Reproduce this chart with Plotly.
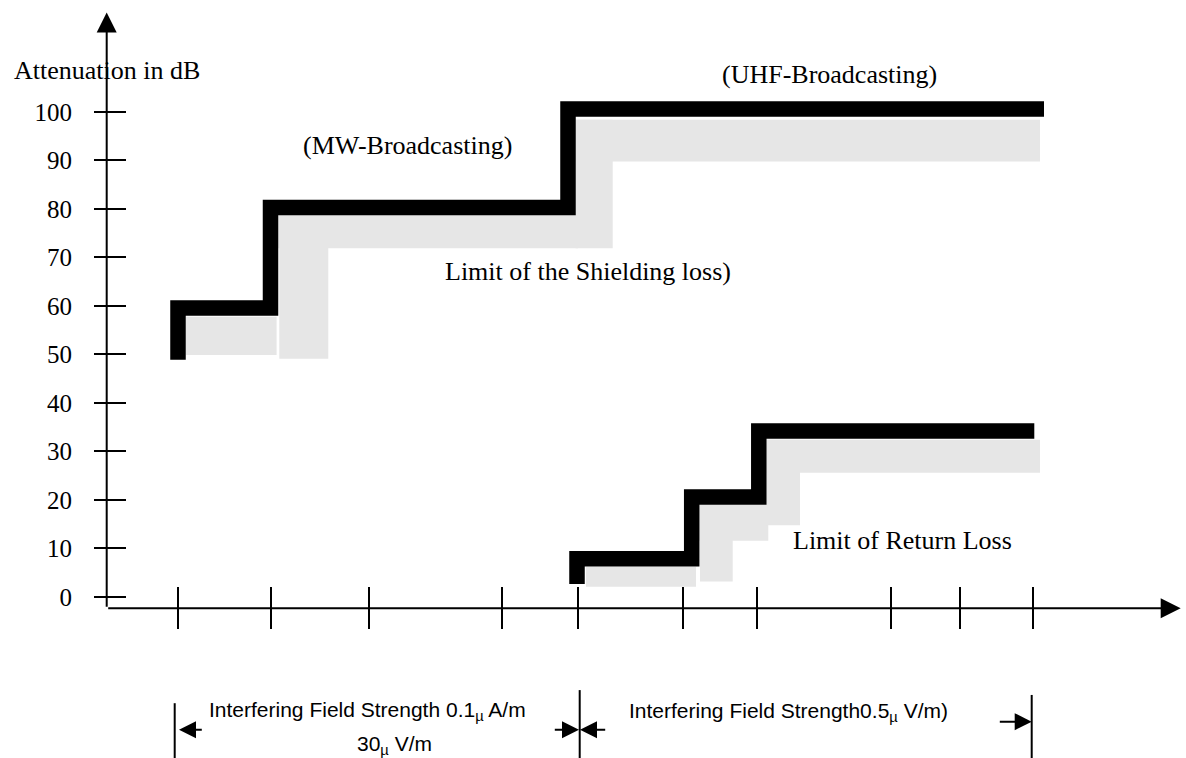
import plotly.graph_objects as go

# attenuation axis (dB)
y_ticks = [0, 10, 20, 30, 40, 50, 60, 70, 80, 90, 100]
# field strength axis, positions along the drawn axis (arbitrary units)
x_ticks = [7.1, 16.4, 26.2, 39.5, 47.1, 57.6, 65.0, 78.4, 85.3, 92.6]

# limit of the shielding loss - black step line
shield_steps_x = [7.13, 16.38, 46.13, 93.73]
shield_levels = [59.6, 80.3, 100.6]
shield_start = 48.9

# limit of return loss - black step line
return_steps_x = [47.03, 58.5, 65.21, 92.76]
return_levels = [7.9, 20.6, 34.2]
return_start = 2.7

# grey bands under the limits: left, right, lower dB, upper dB
shield_band_left = [7.93, 17.26, 17.16, 46.9, 46.9]
shield_band_right = [16.99, 22.16, 47.13, 50.6, 93.33]
shield_band_lo = [49.9, 49.1, 71.9, 71.9, 89.8]
shield_band_hi = [57.8, 78.8, 78.8, 98.4, 98.4]

return_band_left = [47.93, 59.33, 59.26, 66.0, 66.0]
return_band_right = [58.93, 62.6, 66.16, 69.33, 93.33]
return_band_lo = [2.1, 3.2, 11.6, 14.8, 25.6]
return_band_hi = [6.25, 19.0, 19.0, 32.4, 32.4]

# dimension lines under the axis
dim_bars = [6.8, 47.3, 92.5]
origin = (0, -2.33)

SERIF = "Liberation Serif, Times New Roman, serif"
SANS = "Liberation Sans, Arial, sans-serif"
GREY = "#e6e6e6"


def step_path(xs, levels, start):
    px, py = [xs[0]], [start]
    for i, lv in enumerate(levels):
        px += [xs[i], xs[i + 1]]
        py += [lv, lv]
    return px, py


def band(left, right, lo, hi):
    return go.Bar(
        x=[(a + b) / 2 for a, b in zip(left, right)],
        width=[b - a for a, b in zip(left, right)],
        base=lo,
        y=[h - l for l, h in zip(lo, hi)],
        marker=dict(color=GREY, line=dict(width=0)),
        hoverinfo="skip",
    )


fig = go.Figure()
fig.add_trace(band(shield_band_left, shield_band_right, shield_band_lo, shield_band_hi))
fig.add_trace(band(return_band_left, return_band_right, return_band_lo, return_band_hi))

for xs, lv, st in [(shield_steps_x, shield_levels, shield_start),
                   (return_steps_x, return_levels, return_start)]:
    px, py = step_path(xs, lv, st)
    fig.add_trace(go.Scatter(x=px, y=py, mode="lines",
                             line=dict(color="black", width=15.5),
                             hoverinfo="skip"))

# axis arrows
arrow = dict(text="", showarrow=True, arrowhead=2, arrowwidth=2, arrowsize=2,
             arrowcolor="black", xref="x", yref="y", axref="x", ayref="y")
fig.add_annotation(x=origin[0], y=120.5, ax=origin[0], ay=origin[1], **arrow)
fig.add_annotation(x=107.4, y=origin[1], ax=origin[0], ay=origin[1], **arrow)

# serif labels
labels = [
    ("Attenuation in dB", -9.5, 108.6),
    ("(MW-Broadcasting)", 19.4, 93.0),
    ("(UHF-Broadcasting)", 61.3, 107.7),
    ("Limit of the Shielding loss)", 33.6, 67.2),
    ("Limit of Return Loss", 68.4, 11.65),
]
for txt, x, y in labels:
    fig.add_annotation(x=x, y=y, text=txt, showarrow=False, xanchor="left",
                       yanchor="middle", font=dict(family=SERIF, size=26, color="black"))

# dimension lines for the two field-strength ranges
for xb, ytop in zip(dim_bars, [-21.9, -19.2, -20.2]):
    fig.add_shape(type="line", x0=xb, x1=xb, y0=ytop, y1=-34,
                  line=dict(color="black", width=2))

dim = dict(text="", showarrow=True, arrowhead=2, arrowwidth=2, arrowsize=1.7,
           arrowcolor="black", xref="x", yref="y", axref="x", ayref="y")
fig.add_annotation(x=7.23, y=-27.4, ax=9.66, ay=-27.4, **dim)
fig.add_annotation(x=47.23, y=-27.4, ax=44.66, ay=-27.4, **dim)
fig.add_annotation(x=47.33, y=-27.4, ax=50.0, ay=-27.4, **dim)
fig.add_annotation(x=92.5, y=-25.7, ax=89.16, ay=-25.7, **dim)

bottom = [
    ("Interfering Field Strength 0.1<sub>µ</sub> A/m", 26.1, -23.5),
    ("30<sub>µ</sub> V/m", 28.8, -30.5),
    ("Interfering Field Strength0.5<sub>µ</sub> V/m)", 68.2, -23.8),
]
for txt, x, y in bottom:
    fig.add_annotation(x=x, y=y, text=txt, showarrow=False, xanchor="center",
                       yanchor="middle", font=dict(family=SANS, size=21, color="black"))

fig.update_layout(
    width=1186, height=758,
    margin=dict(l=0, r=0, t=0, b=0),
    paper_bgcolor="white", plot_bgcolor="white",
    showlegend=False, barmode="overlay",
    xaxis=dict(range=[-10.67, 107.93], showgrid=False, zeroline=False, showline=False,
               ticks="outside", ticklen=42, tickwidth=2, tickcolor="black",
               tickvals=x_ticks, showticklabels=False,
               anchor="free", position=0.2269, automargin=False),
    yaxis=dict(range=[-33.2, 123.09], showgrid=False, zeroline=False, showline=False,
               ticks="outside", ticklen=32, tickwidth=2, tickcolor="black",
               tickvals=y_ticks, tickfont=dict(family=SERIF, size=25, color="black"),
               ticklabelstandoff=17,
               anchor="free", position=0.1062, automargin=False),
)

fig.write_html("out.html", config={"displayModeBar": False},
               post_script="document.body.style.margin='0';")
